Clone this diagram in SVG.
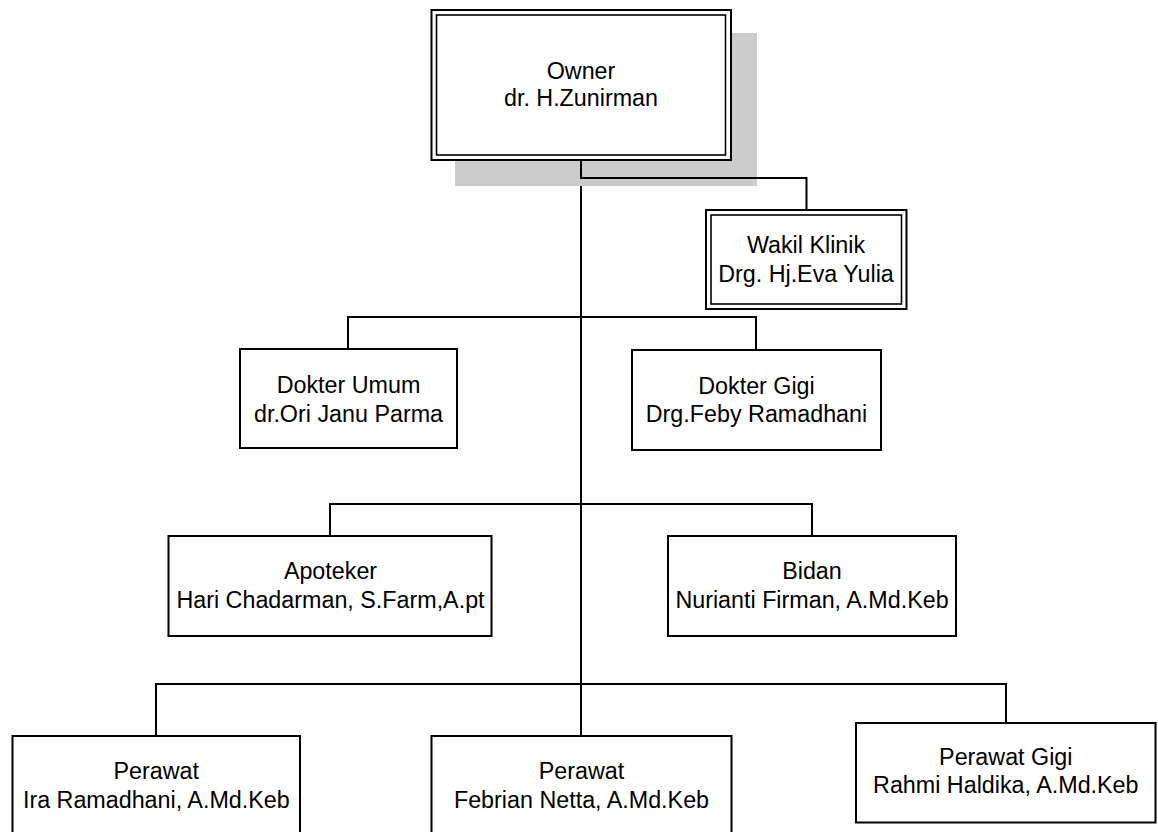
<svg xmlns="http://www.w3.org/2000/svg" width="1158" height="832" viewBox="0 0 1158 832">
<style>
.box{fill:#fff;stroke:#000;stroke-width:2}
.inner{fill:none;stroke:#000;stroke-width:1.6}
.conn{fill:none;stroke:#000;stroke-width:2}
text{font-family:"Liberation Sans",Arial,sans-serif;font-size:23.3px;fill:#000;text-anchor:middle}
</style>
<rect width="1158" height="832" fill="#fff"/>
<g id="connectors">
<path class="conn" d="M581 186 V684"/>
<path class="conn" d="M348 350 V317 H756 V350"/>
<path class="conn" d="M330 536 V504 H812 V536"/>
<path class="conn" d="M156 736 V684 H1006 V723"/>
<path class="conn" d="M581 684 V736"/>
</g>
<g id="owner">
<rect x="455" y="33" width="302" height="153" fill="#cccccc"/>
<path class="conn" d="M581 160 V178 H806.5 V210"/>
<rect class="box" x="431.5" y="10" width="299.5" height="150"/>
<rect class="inner" x="436.5" y="15" width="289" height="140"/>
<text x="581" y="79">Owner</text>
<text x="581" y="106">dr. H.Zunirman</text>
</g>
<g id="wakil">
<rect class="box" x="706" y="210" width="200.5" height="99"/>
<rect class="inner" x="711" y="215" width="190.5" height="89"/>
<text x="806" y="253">Wakil Klinik</text>
<text x="806" y="281.5">Drg. Hj.Eva Yulia</text>
</g>
<g id="dokter-umum">
<rect class="box" x="240" y="349" width="217" height="99"/>
<text x="348.5" y="393">Dokter Umum</text>
<text x="348.5" y="421.5">dr.Ori Janu Parma</text>
</g>
<g id="dokter-gigi">
<rect class="box" x="632" y="350" width="249" height="100"/>
<text x="756.5" y="394">Dokter Gigi</text>
<text x="756.5" y="421.5">Drg.Feby Ramadhani</text>
</g>
<g id="apoteker">
<rect class="box" x="168.5" y="536" width="323" height="100"/>
<text x="330.5" y="579.3">Apoteker</text>
<text x="330.5" y="608">Hari Chadarman, S.Farm,A.pt</text>
</g>
<g id="bidan">
<rect class="box" x="668" y="536" width="288" height="100"/>
<text x="812" y="579.3">Bidan</text>
<text x="812" y="607.7">Nurianti Firman, A.Md.Keb</text>
</g>
<g id="perawat-1">
<rect class="box" x="12.5" y="736" width="287.5" height="100"/>
<text x="156.3" y="779.3">Perawat</text>
<text x="156.3" y="807.7">Ira Ramadhani, A.Md.Keb</text>
</g>
<g id="perawat-2">
<rect class="box" x="431.5" y="736" width="300" height="100"/>
<text x="581.5" y="779.3">Perawat</text>
<text x="581.5" y="808">Febrian Netta, A.Md.Keb</text>
</g>
<g id="perawat-gigi">
<rect class="box" x="856" y="723" width="299.5" height="99.5"/>
<text x="1005.8" y="765">Perawat Gigi</text>
<text x="1005.8" y="793.3">Rahmi Haldika, A.Md.Keb</text>
</g>
</svg>
